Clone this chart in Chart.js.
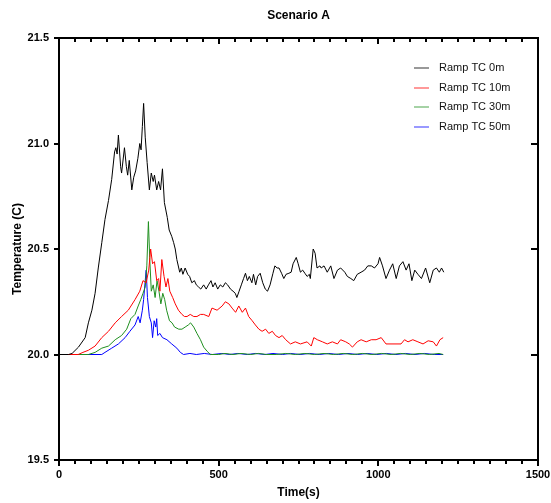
<!DOCTYPE html>
<html lang="en">
<head>
<meta charset="UTF-8" />
<title>Scenario A</title>
<script src="https://cdn.jsdelivr.net/npm/chart.js@4.4.0/dist/chart.umd.min.js"></script>
<style>
  body { margin: 0; background: #fff; }
  canvas { display: block; }
</style>
</head>
<body>
<canvas id="chart" width="551" height="503"></canvas>
<script>
  // tick labels
  const xTicks = [0, 500, 1000, 1500];
  const yTicks = [19.5, 20.0, 20.5, 21.0, 21.5];

  const seriesNames = ['Ramp TC 0m', 'Ramp TC 10m', 'Ramp TC 30m', 'Ramp TC 50m'];
  const seriesColors = ['#000000', '#ff0000', '#1f8f1f', '#0000ff'];

  // Ramp TC 0m
  const time0 = [0, 30, 41, 61, 82, 92, 103, 113, 123, 134, 144, 155, 165, 174, 178, 182, 186, 193, 196, 205,
    211, 215, 220, 228, 234, 240, 247, 253, 257, 261, 265, 270, 276, 283, 289, 295, 299, 306, 312, 318,
    324, 330, 339, 345, 353,
    359, 364, 369, 378, 383, 388, 395, 403, 409, 416, 424, 430, 437, 444, 453, 461, 468, 476, 482, 489,
    497, 505, 513, 521, 528, 537, 545, 552, 557, 564, 571, 578, 584, 590, 596, 604, 609, 616, 622, 630,
    638, 646, 653, 661, 670, 676, 683, 689, 697, 704, 711, 720, 727, 733, 743, 749, 756, 763, 770, 777,
    784, 787, 796, 802, 808, 817,
    821, 830, 840, 851, 861, 872, 882, 895, 903, 914, 923, 934, 946, 957, 967, 978, 988, 999, 1004, 1013,
    1024, 1035, 1045, 1056, 1066, 1077, 1087, 1096, 1105, 1114, 1124, 1135, 1148, 1161, 1172, 1182, 1191, 1198, 1205];
  const temp0 = [20.0, 20.0, 20.005, 20.035, 20.08, 20.15, 20.21, 20.29, 20.41, 20.53, 20.64, 20.73, 20.83, 20.96, 20.98, 20.95, 21.04, 20.89, 20.86, 20.98,
    20.89, 20.85, 20.92, 20.78, 20.84, 20.87, 20.93, 21.0, 20.97, 21.08, 21.19, 21.03, 20.91, 20.78, 20.86, 20.82, 20.85, 20.78, 20.82, 20.78,
    20.88, 20.72, 20.65, 20.59, 20.56,
    20.53, 20.50, 20.45, 20.39, 20.41, 20.38, 20.41, 20.38, 20.37, 20.34, 20.35, 20.33, 20.32, 20.31, 20.33, 20.31, 20.33, 20.35, 20.32, 20.34,
    20.31, 20.33, 20.32, 20.34, 20.33, 20.31, 20.30, 20.29, 20.27, 20.30, 20.33, 20.36, 20.385, 20.35, 20.37, 20.34, 20.38, 20.33, 20.37, 20.385,
    20.34, 20.31, 20.30, 20.33, 20.385, 20.42, 20.41, 20.41, 20.385, 20.36, 20.38, 20.385, 20.39, 20.43, 20.46, 20.43, 20.39, 20.40, 20.385, 20.37,
    20.38, 20.36, 20.50, 20.48, 20.41, 20.42,
    20.41, 20.42, 20.39, 20.42, 20.36, 20.40, 20.41, 20.39, 20.37, 20.36, 20.35, 20.38, 20.39, 20.40, 20.42, 20.42, 20.41, 20.43, 20.46, 20.42,
    20.36, 20.40, 20.43, 20.36, 20.42, 20.44, 20.40, 20.43, 20.35, 20.40, 20.38, 20.36, 20.41, 20.34, 20.40, 20.41, 20.39, 20.41, 20.39];

  // Ramp TC 10m
  const time10 = [0, 60, 75, 92, 113, 134, 155, 176, 196, 217, 238, 253, 263, 273, 281, 287, 293, 299, 306, 312,
    316, 322, 329, 335, 341, 347, 356, 364, 374, 385, 393, 401, 411, 422, 432, 443, 453, 469, 479, 495,
    511, 521, 532, 542, 553, 563, 574, 584, 594, 605, 615, 626, 636, 647, 657, 668, 678, 689, 699, 710,
    725, 740, 756, 777, 790, 798, 809, 825, 840, 856, 872, 882, 898, 909, 919, 934, 946, 962, 978, 993,
    1009, 1024, 1071, 1082, 1093, 1108, 1124, 1140, 1156, 1172, 1182, 1193, 1203];
  const temp10 = [20.0, 20.0, 20.01, 20.02, 20.04, 20.08, 20.11, 20.15, 20.18, 20.21, 20.26, 20.30, 20.35, 20.34, 20.40, 20.50, 20.43, 20.44, 20.35, 20.36,
    20.30, 20.45, 20.37, 20.32, 20.36, 20.30, 20.27, 20.24, 20.21, 20.19, 20.18, 20.18, 20.19, 20.18, 20.18, 20.19, 20.19, 20.18, 20.22, 20.21,
    20.23, 20.25, 20.24, 20.22, 20.20, 20.23, 20.20, 20.22, 20.18, 20.16, 20.14, 20.12, 20.11, 20.12, 20.10, 20.11, 20.09, 20.08, 20.09, 20.07,
    20.05, 20.06, 20.05, 20.06, 20.04, 20.08, 20.07, 20.06, 20.05, 20.06, 20.05, 20.07, 20.06, 20.05, 20.035, 20.06, 20.07, 20.06, 20.07, 20.07,
    20.08, 20.05, 20.05, 20.07, 20.06, 20.07, 20.06, 20.05, 20.065, 20.06, 20.04, 20.07, 20.08];

  // Ramp TC 30m
  const time30 = [0, 92, 113, 134, 155, 176, 196, 212, 225, 238, 248, 256, 263, 270, 275, 280, 284, 289, 295, 301,
    307, 313, 319, 325, 331, 337, 346, 354, 362, 375, 385, 395, 405, 412, 422, 432, 443, 453, 464, 474,
    500, 520, 545, 570, 600, 625, 650, 680, 710, 740, 770, 800, 830, 860, 890, 920, 950, 980, 1010, 1040,
    1070, 1100, 1130, 1160, 1190, 1203];
  const temp30 = [20.0, 20.0, 20.01, 20.03, 20.04, 20.07, 20.09, 20.12, 20.17, 20.19, 20.23, 20.26, 20.29, 20.32, 20.42, 20.63, 20.46, 20.30, 20.33, 20.27,
    20.35, 20.30, 20.24, 20.29, 20.26, 20.21, 20.16, 20.15, 20.13, 20.12, 20.12, 20.13, 20.14, 20.15, 20.13, 20.10, 20.07, 20.035, 20.015, 20.0,
    20.0, 20.005, 20.0, 20.005, 20.0, 20.005, 20.0, 20.0, 20.005, 20.0, 20.005, 20.0, 20.005, 20.0, 20.005, 20.0, 20.005, 20.0, 20.005, 20.0,
    20.005, 20.0, 20.005, 20.0, 20.005, 20.0];

  // Ramp TC 50m
  const time50 = [0, 134, 144, 165, 186, 207, 222, 238, 248, 254, 261, 265, 270, 273, 277, 283, 289, 293, 298, 303,
    306, 309, 316, 324, 338, 353, 369, 380, 390, 410, 430, 455, 480, 510, 535, 560, 590, 615, 645, 670,
    700, 725, 755, 785, 815, 845, 875, 905, 935, 965, 995, 1025, 1055, 1085, 1115, 1145, 1175, 1203];
  const temp50 = [20.0, 20.0, 20.01, 20.03, 20.05, 20.08, 20.11, 20.14, 20.18, 20.15, 20.21, 20.26, 20.35, 20.40, 20.27, 20.18, 20.15, 20.08, 20.16, 20.13,
    20.17, 20.09, 20.10, 20.08, 20.07, 20.05, 20.03, 20.01, 20.0, 20.005, 20.0, 20.005, 20.0, 20.005, 20.0, 20.005, 20.0, 20.005, 20.0, 20.005,
    20.0, 20.005, 20.0, 20.005, 20.0, 20.005, 20.0, 20.005, 20.0, 20.005, 20.0, 20.005, 20.0, 20.005, 20.0, 20.005, 20.0, 20.0];

  const times = [time0, time10, time30, time50];
  const temps = [temp0, temp10, temp30, temp50];

  const fontFamily = '"Liberation Sans", Arial, sans-serif';

  // box round the plot, with Prism-style ticks
  const framePlugin = {
    id: 'frame',
    afterDatasetsDraw(chart) {
      const { ctx, chartArea: a, scales: { x, y } } = chart;
      ctx.save();
      ctx.strokeStyle = '#000';
      ctx.lineWidth = 2;
      ctx.strokeRect(a.left, a.top, a.right - a.left, a.bottom - a.top);
      ctx.beginPath();
      for (let v = 0; v <= 1500; v += 50) {
        const px = Math.round(x.getPixelForValue(v));
        const len = v % 500 === 0 ? 6 : 4;
        ctx.moveTo(px, a.bottom);
        ctx.lineTo(px, a.bottom + len);
        ctx.moveTo(px, a.top);
        ctx.lineTo(px, a.top + len);
      }
      yTicks.forEach(v => {
        const py = Math.round(y.getPixelForValue(v));
        ctx.moveTo(a.left - 5, py);
        ctx.lineTo(a.left, py);
        ctx.moveTo(a.right, py);
        ctx.lineTo(a.right - 7, py);
      });
      ctx.stroke();
      ctx.restore();
    }
  };

  // legend sits inside the plot, top right
  const insideLegend = {
    id: 'insideLegend',
    afterDraw(chart) {
      const { ctx } = chart;
      ctx.save();
      ctx.font = '11px ' + fontFamily;
      ctx.textBaseline = 'middle';
      chart.data.datasets.forEach((ds, i) => {
        const rowY = Math.round(68 + i * 19.6);
        ctx.strokeStyle = ds.borderColor;
        ctx.globalAlpha = 0.8;
        ctx.lineWidth = 1;
        ctx.beginPath();
        ctx.moveTo(414, rowY);
        ctx.lineTo(429, rowY);
        ctx.stroke();
        ctx.globalAlpha = 1;
        ctx.fillStyle = '#111';
        ctx.fillText(ds.label, 439, rowY);
      });
      ctx.restore();
    }
  };

  new Chart(document.getElementById('chart'), {
    type: 'line',
    data: {
      datasets: seriesNames.map((name, i) => ({
        label: name,
        data: times[i].map((t, j) => ({ x: t, y: temps[i][j] })),
        borderColor: seriesColors[i],
        backgroundColor: seriesColors[i],
        borderWidth: 1,
        pointRadius: 0,
        tension: 0,
        fill: false
      }))
    },
    options: {
      responsive: false,
      animation: false,
      devicePixelRatio: 1,
      layout: { padding: { left: 0, right: 13, top: 0, bottom: 0 } },
      plugins: {
        legend: { display: false },
        tooltip: { enabled: false },
        title: {
          display: true,
          text: 'Scenario A',
          fullSize: false,
          color: '#000',
          font: { family: fontFamily, size: 12, weight: 'bold' },
          padding: { top: 8.5, bottom: 15.1 }
        }
      },
      scales: {
        x: {
          type: 'linear',
          min: 0,
          max: 1500,
          afterBuildTicks: s => { s.ticks = xTicks.map(v => ({ value: v })); },
          afterFit: s => { s.height = 43; s.paddingLeft = 0; s.paddingRight = 0; },
          grid: { display: false, drawTicks: false },
          border: { display: false },
          ticks: {
            padding: 8,
            color: '#000',
            maxRotation: 0,
            callback: v => String(v),
            font: { family: fontFamily, size: 11, weight: 'bold' }
          },
          title: {
            display: true,
            text: 'Time(s)',
            color: '#000',
            font: { family: fontFamily, size: 12, weight: 'bold' },
            padding: { top: 0, bottom: 3 }
          }
        },
        y: {
          min: 19.5,
          max: 21.5,
          afterBuildTicks: s => { s.ticks = yTicks.map(v => ({ value: v })); },
          afterFit: s => { s.width = 59; s.paddingTop = 0; s.paddingBottom = 0; },
          grid: { display: false, drawTicks: false },
          border: { display: false },
          ticks: {
            padding: 10,
            color: '#000',
            callback: v => v.toFixed(1),
            font: { family: fontFamily, size: 11, weight: 'bold' }
          },
          title: {
            display: true,
            text: 'Temperature (C)',
            color: '#000',
            font: { family: fontFamily, size: 12, weight: 'bold' },
            padding: { top: 10, bottom: 0 }
          }
        }
      }
    },
    plugins: [framePlugin, insideLegend]
  });
</script>
</body>
</html>
